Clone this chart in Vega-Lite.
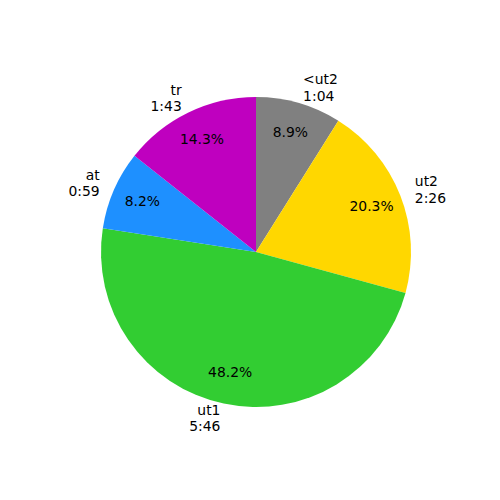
{
  "$schema": "https://vega.github.io/schema/vega-lite/v6.json",
  "width": 512,
  "height": 504,
  "padding": 0,
  "autosize": {"type": "none"},
  "background": "white",
  "view": {"stroke": null},
  "data": {"values": [
    {"name": "<ut2", "time": "1:04", "sec": 64, "i": 1},
    {"name": "ut2", "time": "2:26", "sec": 146, "i": 2},
    {"name": "ut1", "time": "5:46", "sec": 346, "i": 3},
    {"name": "at", "time": "0:59", "sec": 59, "i": 4},
    {"name": "tr", "time": "1:43", "sec": 103, "i": 5}
  ]},
  "transform": [
    {"joinaggregate": [{"op": "sum", "field": "sec", "as": "total"}]},
    {"calculate": "format(datum.sec / datum.total, '.1%')", "as": "pct"},
    {"calculate": "[datum.name, datum.time]", "as": "lbl"},
    {"stack": "sec", "groupby": [], "sort": [{"field": "i", "order": "ascending"}], "as": ["s0", "s1"]},
    {"calculate": "(datum.s0 + datum.s1) / 2", "as": "mid"},
    {"calculate": "sin(2 * PI * datum.mid / datum.total) >= 0 ? 'R' : 'L'", "as": "side"}
  ],
  "layer": [
    {
      "mark": {"type": "arc", "outerRadius": 155},
      "encoding": {
        "theta": {"field": "s0", "type": "quantitative", "scale": {"domain": [0, 718], "zero": true, "nice": false}},
        "theta2": {"field": "s1"},
        "color": {
          "field": "name", "type": "nominal", "legend": null,
          "scale": {"domain": ["<ut2", "ut2", "ut1", "at", "tr"],
                    "range": ["#808080", "#FFD700", "#32CD32", "#1E90FF", "#BF00BF"]}
        }
      }
    },
    {
      "mark": {"type": "text", "radius": 124, "font": "DejaVu Sans", "fontSize": 13.9, "color": "black", "align": "center", "baseline": "middle"},
      "encoding": {
        "theta": {"field": "mid", "type": "quantitative"},
        "text": {"field": "pct", "type": "nominal"}
      }
    },
    {
      "transform": [{"filter": "datum.side == 'R'"}],
      "mark": {"type": "text", "radius": 170.5, "font": "DejaVu Sans", "fontSize": 13.9, "color": "black", "align": "left", "baseline": "middle", "lineHeight": 16.5, "dy": -8},
      "encoding": {
        "theta": {"field": "mid", "type": "quantitative"},
        "text": {"field": "lbl", "type": "nominal"}
      }
    },
    {
      "transform": [{"filter": "datum.side == 'L'"}],
      "mark": {"type": "text", "radius": 170.5, "font": "DejaVu Sans", "fontSize": 13.9, "color": "black", "align": "right", "baseline": "middle", "lineHeight": 16.5, "dy": -8},
      "encoding": {
        "theta": {"field": "mid", "type": "quantitative"},
        "text": {"field": "lbl", "type": "nominal"}
      }
    }
  ]
}
